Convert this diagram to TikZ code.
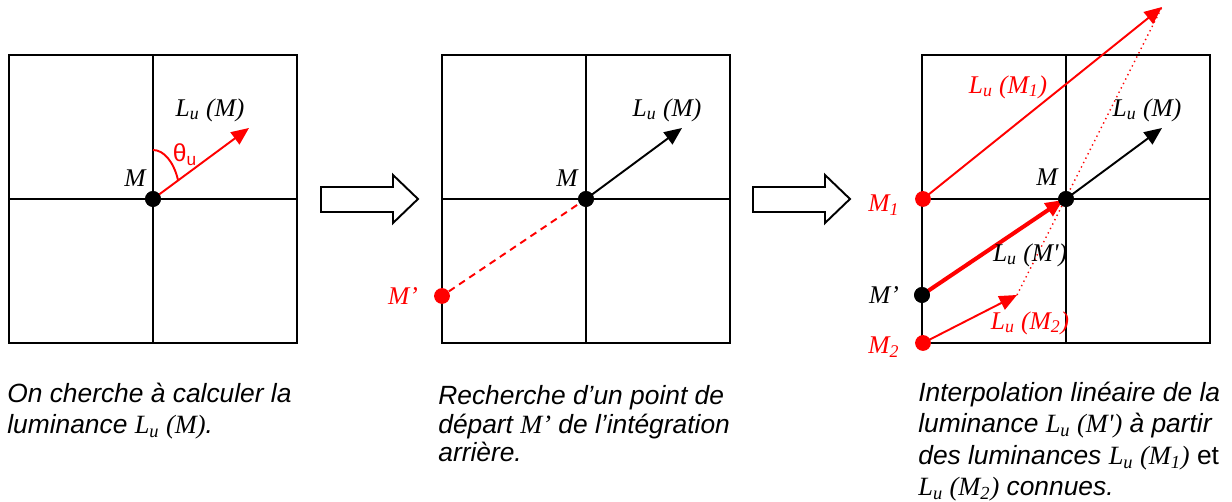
\documentclass[tikz,border=0pt]{standalone}
\usepackage{fontspec}
\setmainfont{Liberation Sans}
\newfontfamily\tms{Liberation Serif}
\usepackage{tikz}
\usetikzlibrary{arrows.meta, positioning, calc}

\newcommand{\Lu}[1]{{\tms\textit{L}\textsubscript{\textit{u}}\ (\textit{#1})}}

\begin{document}
\begin{tikzpicture}[x=0.02cm, y=-0.02cm,
    cell/.style={line width=1.1pt},
    dot/.style={circle, fill=black, inner sep=0pt, minimum size=9pt},
    reddot/.style={dot, fill=red},
    vec/.style={line width=1.1pt, -{Triangle[length=10pt,width=8.5pt]}},
    lab/.style={font=\fontsize{14.5}{16}\selectfont\tms\itshape, inner sep=0pt},
    caption/.style={font=\fontsize{15}{18}\selectfont\itshape, align=left, anchor=base west, inner sep=0pt},
    hollow/.style={line width=1.1pt, fill=white}
]
\useasboundingbox (0,0) rectangle (1232,502);

% the three grids
\foreach \cx in {153,586,1066} {
  \draw[cell] (\cx-144,55) rectangle (\cx+144,343);
  \draw[cell] (\cx,55) -- (\cx,343);
  \draw[cell] (\cx-144,199) -- (\cx+144,199);
}

% hollow arrows between panels
\foreach \ax in {321,753}
  \draw[hollow] (\ax,187) -- ++(72,0) -- ++(0,-12) -- ++(25,24) -- ++(-25,24) -- ++(0,-11) -- ++(-72,0) -- cycle;

% panel 1
\coordinate (tip1) at (249,128);
\draw[red, line width=1.1pt] (153,150) arc[start angle=90, end angle=23.6, x radius=0.546cm, y radius=1cm];
\node[dot] (m1) at (153,199) {};
\draw[vec, red] (m1.center) -- (tip1);
\node[dot] at (m1) {};
\node[lab] (m1lab) at (135,178) {M};
\node[lab] (lu1) at (210,110) {\Lu{M}};
\node[font=\fontsize{14}{16}\selectfont, text=red, inner sep=0pt] (theta) at (185,155) {θ\textsubscript{u}};

% panel 2
\coordinate (tip2) at (682,128);
\node[dot] (m2) at (586,199) {};
\node[reddot] (mp2) at (442,296) {};
\draw[red, line width=1.1pt, dash pattern=on 4pt off 3pt] (mp2) -- (m2.center);
\draw[vec] (m2.center) -- (tip2);
\node[dot] at (m2) {};
\node[lab] (m2lab) at (567,178) {M};
\node[lab] (lu2) at (667,110) {\Lu{M}};
\node[lab, text=red] (mp2lab) at (403,296) {M’};

% panel 3
\coordinate (tip3) at (1162,128);
\coordinate (tipa) at (1162,7);
\coordinate (tipp) at (1063,200);
\coordinate (tipb) at (1017,295);
\node[dot] (m3) at (1066,199) {};
\node[reddot] (ma) at (923,199) {};
\node[dot] (mp3) at (922,295) {};
\node[reddot] (mb) at (923,343) {};
\draw[vec] (m3.center) -- (tip3);
\draw[vec, red] (ma.center) -- (tipa);
\draw[vec, red] (mb.center) -- (tipb);
\draw[red, dotted, line width=0.8pt] (tipb) -- (tipa);
\draw[vec, red, line width=2.3pt] (mp3.center) -- (tipp);
\node[dot] at (m3) {};
\node[dot] at (mp3) {};
\node[lab] (m3lab) at (1047,177) {M};
\node[lab] (lu3) at (1147,110) {\Lu{M}};
\node[lab, text=red] (malab) at (884,205) {M\textsubscript{1}};
\node[lab, text=red] (lua) at (1008,87) {\Lu{M\textsubscript{1}}};
\node[lab] (mp3lab) at (884,295) {M’};
\node[lab] (lup) at (1030,255) {\Lu{M'}};
\node[lab, text=red] (mblab) at (884,347) {M\textsubscript{2}};
\node[lab, text=red] (lub) at (1030,323) {\Lu{M\textsubscript{2}}};

% captions (anchored on the last line)
\node[caption] (cap1) at (7,434) {On cherche à calculer la\\luminance \Lu{M}.};
\node[caption, font=\fontsize{15}{16.5}\selectfont\itshape] (cap2) at (438,462) {Recherche d’un point de\\départ {\tms M’} de l’intégration\\arrière.};
\node[caption] (cap3) at (918,496) {Interpolation linéaire de la\\luminance \Lu{M'} à partir\\des luminances \Lu{M\textsubscript{1}} {\upshape et}\\\Lu{M\textsubscript{2}} connues.};
\end{tikzpicture}
\end{document}
